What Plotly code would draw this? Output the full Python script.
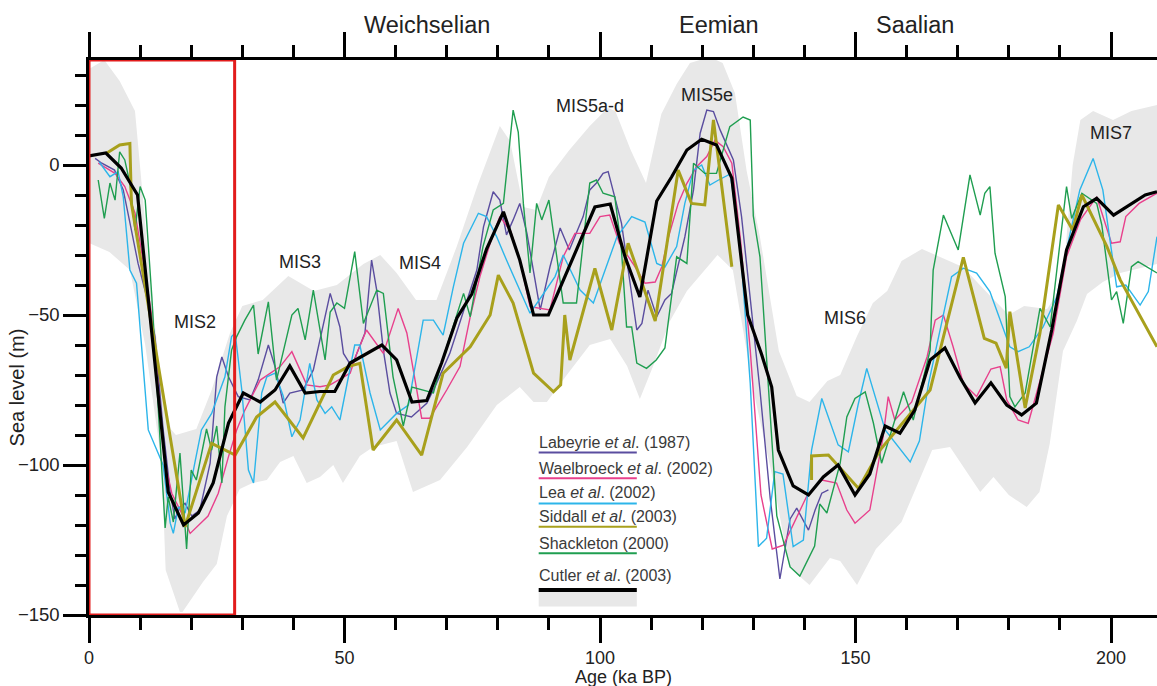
import plotly.graph_objects as go

# ---------------- data ----------------
# Cutler et al. (2003) - black
cutler_x = [0, 3.3, 6.3, 9.5, 15.5, 18.5, 21.4, 24.3, 27.3, 30.2, 33.5, 36.4, 39.3, 42.3, 45.2, 48.1,
            51.1, 54.3, 57.3, 60.2, 63.2, 66.1, 69.0, 72.0, 74.9, 77.8, 81.1, 84.3, 87.0, 89.9, 99.0,
            102.0, 104.9, 107.8, 111.1, 114.0, 117.0, 119.9, 122.8, 125.8, 128.9, 131.6, 133.6, 134.9,
            137.8, 140.8, 143.7, 146.6, 149.9, 152.8, 155.8, 158.7, 161.6, 164.6, 167.5, 170.5, 173.4,
            176.5, 179.6, 182.5, 185.4, 188.4, 191.3, 194.6, 197.2, 200.5, 203.7, 206.7, 209]
cutler_y = [3, 4, -1, -10, -109, -120, -116, -106, -86, -76, -79, -75, -67, -76, -75.5, -75.5,
            -66, -63, -60, -65, -79, -78.5, -66, -51, -43, -28, -15.6, -31.7, -50, -50, -14,
            -13, -30.6, -44, -12, -4, 5, 8.6, 6.7, -4.4, -50, -63, -74, -95,
            -107, -110, -104, -100, -110, -103, -87, -89.4, -81.7, -65, -61, -71, -79.3,
            -72.6, -80, -83.3, -79.4, -55, -28.3, -13.9, -11.1, -16.7, -13.3, -10, -8.9]

# envelope (grey band)
env_up_x = [0, 3, 6, 9, 10.5, 12, 14, 16, 17, 21, 24, 27.6, 30, 34, 39, 44, 48.5, 53.7, 57, 60.2, 64,
            68, 72, 76, 80.4, 82.4, 85, 87.5, 90, 94, 98, 101.5, 103, 106, 109, 112, 115, 117.6,
            121.5, 124, 126.4, 128.7, 131.3, 135, 138.5, 141, 144.5, 147, 150.3, 153.4, 156.2, 159,
            163, 167, 171, 176, 180, 183, 187.5, 190.5, 191.5, 192.5, 194, 196.5, 200.4, 204, 209]
env_up_y = [32, 35, 28, 18, -10, -40, -70, -88, -90, -88, -75, -56, -47, -45, -37, -42, -40, -33, -30,
            -36, -45, -45, -27, -7, 13, 8, -14, -15, -4, 5, 13, 19, 18, 5, -6, 17, 27, 34,
            36, 34, 24, -2, -24, -62, -77, -79, -72, -70, -57, -46, -42, -32,
            -28, -31, -34, -43, -50, -47, -48, -40, -20, 0, 15, 18, 15, 18, 20]
env_lo_x = [0, 4, 8, 11, 14.2, 15, 17.8, 18.3, 22.3, 25, 27, 29.5, 32, 34.8, 37.4, 40, 42.6, 45.2,
            47.8, 49.7, 53, 55.6, 60.2, 63.4, 68.7, 74, 79.8, 84.3, 87, 89.6, 93.5, 98, 102, 105.3,
            107.8, 110.4, 113.7, 117, 120, 123, 126, 128, 130, 134, 137, 141, 145, 147, 150.3, 154,
            159, 165, 168.5, 174.4, 177, 180, 183.5, 186, 188, 190.6, 193.3, 195.3, 198.4, 201.8, 209]
env_lo_y = [-26, -29, -35, -60, -99, -135, -149, -149, -139, -133, -117, -108, -106, -105, -99, -97,
            -106, -104, -100, -106, -97, -94, -92, -109, -105, -94, -80, -74, -79, -79, -70, -60,
            -58, -67, -78, -67, -52, -42, -36, -30, -35, -55, -75, -106, -134, -140, -131, -132,
            -140, -128, -119, -95, -94, -109, -104, -110, -114, -109, -93, -62, -52, -43, -39, -36, -33]

# Labeyrie et al. (1987) - purple
lab_x = [1.2, 2.5, 5.0, 6.7, 8.3, 9.6, 11.6, 12.9, 14.5, 15.9, 16.8, 17.8, 18.8, 20.1, 21.7, 23.7,
         25.0, 26.0, 27.3, 29.2, 31.5, 33.1, 35.1, 36.4, 38.0, 39.3, 41.9, 43.9, 47.2, 49.1, 49.8,
         51.4, 54.0, 55.3, 56.3, 57.6, 58.9, 60.2, 61.5, 63.1, 66.1, 68.0, 70.6, 73.2, 75.9, 77.2,
         79.1, 80.4, 81.7, 83.0, 84.3, 85.7, 87.0, 88.3, 90.2, 92.2, 94.0, 96.7, 98.0, 99.3, 100.6,
         101.6, 104.2, 105.9, 107.2, 108.2, 109.4, 111.1, 112.7, 114.0, 115.3, 116.6, 118.3, 119.6,
         120.9, 122.2, 123.5, 124.8, 126.1, 127.7, 129.4, 131.3, 133.3, 135.2, 136.2, 137.2, 138.5,
         140.8, 142.1, 143.4, 144.7]
lab_y = [2.2, 0.6, -1.7, -8.3, -21.7, -32.8, -46, -57, -88, -109, -118, -114, -112.8, -117, -115,
         -99.4, -70.6, -64, -70.6, -77.2, -78.3, -71.7, -60, -67.2, -79.4, -76, -75, -68.3, -42.8,
         -54, -62.8, -67.2, -56, -31.7, -41.7, -61.7, -76, -82.8, -83.3, -84, -79.4, -72.8, -62.8,
         -49.4, -35, -20.6, -8.9, -11.7, -23.3, -18.3, -12.8, -22.8, -36, -48.3, -34, -21, -28.3,
         -17.2, -8.3, -6, -2.8, -2.2, -19.4, -39.4, -55, -52.8, -41.7, -50.6, -45, -42.8, -33.9,
         -24, -8.3, 10.6, 18.3, 17.8, 11.7, 6.7, 1.7, -17.2, -45, -75, -111, -138, -128, -118,
         -114.4, -121.7, -115, -109.4, -108.3]

# Waelbroeck et al. (2002) - pink
wae_x = [1.8, 5.1, 7.0, 9.0, 11.0, 12.3, 14.9, 16.2, 18.1, 19.8, 23.3, 25.3, 27.3, 28.9, 30.5, 33.5,
         37.4, 39.7, 41.3, 42.6, 45.2, 47.2, 51.1, 52.4, 54.3, 57.6, 60.5, 62.2, 65.1, 66.7, 70.0,
         72.6, 74.6, 76.5, 78.5, 80.4, 82.5, 84.5, 86.3, 90.2, 92.8, 95.1, 98.0, 100.0, 101.9, 103.8,
         106.5, 108.8, 110.8, 112.1, 113.4, 115.3, 117.0, 118.9, 120.9, 122.5, 124.1, 125.8, 127.5,
         129.4, 131.5, 133.7, 135.9, 140.4, 143.4, 146.3, 148.3, 149.9, 152.8, 155.4, 156.4, 157.7,
         161.0, 164.0, 165.6, 167.2, 169.1, 171.1, 173.7, 176.5, 178.3, 179.6, 181.8, 183.8, 188.7,
         191.3, 194.0, 197.2, 200.1, 201.8, 202.9, 205.5, 209]
wae_y = [0.6, -2.8, -7.2, -16, -36, -50.6, -99.4, -109.4, -116, -122.8, -117, -109.4, -97.2, -88.3,
         -81.7, -71.7, -67.2, -62.2, -68.3, -73.3, -73.9, -73.3, -69.4, -62.8, -55, -62.8, -47.8,
         -56, -84.4, -84.4, -75, -67.2, -50.6, -37.2, -26.1, -17.2, -22, -33, -47.2, -48.3, -30.6,
         -22.8, -22.8, -17.2, -16.7, -26.1, -33, -39.4, -39, -33.9, -24, -12.8, -6.1, -0.6, 2.8,
         8.3, 6.1, 0.6, -25, -61.7, -110, -128, -126.7, -110.6, -105, -106, -115, -119.4, -115,
         -90.6, -77.2, -85, -79, -64, -51.7, -50, -60.6, -72.8, -77.2, -68, -67.2, -78.3, -85,
         -86.1, -56, -30.6, -18.3, -10.6, -26.1, -25.6, -17.2, -12.8, -9.4]

# Lea et al. (2002) - cyan
lea_x = [2.0, 4.1, 5.7, 6.7, 8.0, 9.3, 11.6, 13.2, 14.5, 15.9, 16.5, 17.5, 18.8, 20.7, 22.0, 24.0,
         26.6, 27.9, 28.6, 29.9, 31.2, 32.2, 33.8, 34.8, 36.4, 38.0, 39.7, 41.3, 43.2, 44.6, 46.2,
         47.5, 49.1, 52.0, 53.0, 55.0, 57.0, 60.2, 62.5, 65.4, 67.4, 69.3, 71.3, 73.3, 76.2, 77.8,
         79.8, 81.7, 84.3, 86.3, 88.5, 91.2, 92.8, 96.1, 98.7, 103.3, 106.2, 108.8, 111.1, 112.7,
         115.0, 116.6, 118.3, 119.9, 121.5, 123.2, 125.5, 127.4, 129.4, 131.0, 132.6, 134.2, 135.8,
         137.8, 139.8, 141.4, 143.4, 146.6, 148.6, 150.5, 152.2, 155.8, 160.7, 162.5, 164.3, 167.2,
         168.8, 171.1, 173.7, 176.3, 180.2, 181.8, 184.0, 186.7, 189.4, 192.0, 193.9, 196.5, 198.4,
         201.1, 202.9, 205.7, 207.3, 209]
lea_y = [1, -3.9, -2.2, -10.6, -35, -39.4, -88.3, -95, -100, -119.4, -122.8, -114, -116, -99.4,
         -88.3, -82.8, -70.6, -57.2, -56, -75, -101.7, -106, -76, -70.6, -69.4, -77, -90.6, -85,
         -66.1, -78.3, -82.8, -80.6, -85, -60, -60, -76, -88.3, -82.8, -80, -51.7, -51.7, -56.7,
         -40.6, -26.1, -16.1, -17.2, -24, -31.7, -41.7, -49.4, -44, -37.2, -30, -41.7, -46, -24,
         -17.2, -19, -32.8, -34, -27.2, -12.8, -1.7, 0, -6.7, -5, -3, -26.1, -72.8, -127.2, -124.4,
         -102.2, -103, -127.2, -125, -95, -77.8, -93.3, -95.6, -80, -67.8, -88.3, -99, -92, -72.8,
         -49.4, -37.2, -34.4, -36, -42.2, -60.6, -62.2, -60.6, -54, -43.9, -22.8, -8.3, 2.2, -8.3,
         -40.6, -40, -46.7, -42.2, -23.9]

# Siddall et al. (2003) - olive
sid_x = [3.5, 6.0, 8.0, 8.3, 18.8, 24.0, 28.6, 32.8, 36.4, 41.9, 47.8, 50.7, 53.0, 55.6, 60.2, 65.1,
         69.3, 74.6, 78.5, 80.1, 83.0, 87.0, 90.9, 92.3, 93.1, 94.1, 99.0, 102.3, 105.5, 110.8, 115.3,
         117.9, 120.5, 122.2, 125.8, None, 141.4, 141.4, 144.7, 150.6, 154.8, 164.6, 171.1, 175.2,
         177.5, 179.5, 180.2, 183.2, 186.1, 189.7, 192.5, 194.3, 199.2, 201.8, 209]
sid_y = [4, 6.7, 7.2, -12.8, -120.6, -92.8, -96.7, -84, -79, -91, -70, -67.2, -66.1, -95, -85, -96.7,
         -69.4, -60.6, -50, -36.7, -46, -69.4, -75.6, -73.3, -50, -65, -34.5, -55, -26.1, -52, -1.7,
         -12.8, -13.3, 15, -33.9, None, -105, -97, -96.7, -107.8, -95, -75, -30.8, -57.8,
         -59.4, -67.7, -48.9, -81, -56, -13.3, -21.7, -10, -27.2, -38.3, -60.6]

# Shackleton (2000) - green
sha_x = [1.8, 3.0, 4.1, 5.1, 6.0, 7.0, 8.0, 9.0, 10.0, 11.0, 12.3, 14.9, 15.5, 16.5, 17.8, 19.1, 20.0,
         21.0, 23.0, 24.0, 25.0, 26.0, 26.6, 27.9, 28.9, 30.5, 32.2, 33.1, 35.1, 36.7, 39.7, 40.9,
         42.3, 43.9, 46.2, 47.2, 48.5, 50.0, 52.0, 53.7, 56.3, 57.6, 59.5, 61.5, 63.2, 67.4, 69.0,
         72.0, 73.3, 74.6, 77.1, 79.1, 81.1, 83.0, 84.0, 85.0, 86.3, 87.6, 88.6, 90.0, 92.8, 95.4,
         98.0, 99.3, 100.6, 102.9, 104.2, 105.2, 106.2, 107.2, 109.1, 111.0, 112.7, 115.0, 117.0,
         118.3, 120.5, 122.8, 124.1, 125.4, 128.0, 129.4, 130.0, 131.3, 134.6, 137.2, 139.1, 142.0,
         143.0, 144.4, 147.0, 148.3, 149.9, 151.9, 153.5, 155.1, 159.4, 161.3, 164.6, 165.2, 167.2,
         170.1, 172.4, 174.4, 175.3, 176.3, 177.3, 179.3, 180.2, 181.2, 183.2, 186.1, 188.1, 191.3,
         192.3, 194.3, 197.2, 198.2, 200.1, 201.1, 202.4, 204.0, 205.3, 209]
sha_y = [-5, -17.8, -6, -11.7, 4.4, 1.7, -6, -21.7, -7.2, -11.7, -44, -121, -110.6, -119, -96, -128,
         -101.7, -105, -88, -95, -87, -106, -80.6, -61.7, -57.2, -51.7, -46.7, -63, -45.6, -71.7, -50,
         -47.8, -58.3, -41.7, -65, -49, -46, -47.8, -28.9, -52.8, -41.7, -42.8, -70.6, -87, -74, -76,
         -66, -49.4, -42.8, -50.6, -27.2, -15, -12.8, 18.3, 11, -12.8, -36, -12.8, -18.3, -11.7, -46,
         -46, -6, -5, -9.4, -10.6, -28.3, -54, -54, -66, -67.8, -65, -61, -30.6, -32.8, 0.6, -2.8,
         -2.8, 5, 12.8, 16, 15, -17, -30.6, -117, -134, -137, -127, -113, -116, -99.4, -84, -77.8,
         -75.6, -86, -99.4, -75.6, -85, -61.7, -35, -16.7, -28.3, -3.3, -16.7, -9.4, -7.2, -29.4,
         -43.9, -77.2, -80.6, -76, -47.8, -54, -7.2, -17.8, -9.4, -12.8, -20, -45, -42.2, -52.8,
         -33.9, -32.2, -36]

x_major_ticks = [0, 50, 100, 150, 200]
y_major_ticks = [-150, -100, -50, 0]
stage_names = ["Weichselian", "Eemian", "Saalian"]
stage_pos = [66.1, 123.3, 161.6]
mis_labels = ["MIS2", "MIS3", "MIS4", "MIS5a-d", "MIS5e", "MIS6", "MIS7"]
mis_x = [20.7, 41.3, 64.8, 98.0, 121.0, 148.0, 200.0]
mis_y = [-52.3, -32.3, -32.7, 19.7, 23.3, -51.0, 10.7]
legend_labels = ["Labeyrie <i>et al</i>. (1987)", "Waelbroeck <i>et al</i>. (2002)",
                 "Lea <i>et al</i>. (2002)", "Siddall <i>et al</i>. (2003)",
                 "Shackleton (2000)", "Cutler <i>et al</i>. (2003)"]

# ---------------- styling ----------------
FONT = "Arial, 'Liberation Sans', Helvetica, sans-serif"
C_PURPLE = "#5a4d9f"
C_PINK = "#e8408c"
C_CYAN = "#2cb5ea"
C_OLIVE = "#a8a01c"
C_GREEN = "#1f9e50"
C_BLACK = "#000000"
C_BAND = "#e8e8e8"
C_RED = "#e21c1c"
TXT = "#222222"

fig = go.Figure()

# grey envelope
fig.add_trace(go.Scatter(x=env_up_x + env_lo_x[::-1], y=env_up_y + env_lo_y[::-1],
                         fill="toself", fillcolor=C_BAND, line=dict(width=0),
                         mode="lines", hoverinfo="skip", showlegend=False))

series = [
    (lab_x, lab_y, C_PURPLE, 1.4),
    (wae_x, wae_y, C_PINK, 1.4),
    (lea_x, lea_y, C_CYAN, 1.4),
    (sha_x, sha_y, C_GREEN, 1.4),
    (sid_x, sid_y, C_OLIVE, 3.0),
    (cutler_x, cutler_y, C_BLACK, 3.2),
]
for sx, sy, col, w in series:
    fig.add_trace(go.Scatter(x=sx, y=sy, mode="lines", line=dict(color=col, width=w),
                             connectgaps=False, showlegend=False, hoverinfo="skip"))

# dummy trace to carry the top axis
fig.add_trace(go.Scatter(x=[0], y=[0], xaxis="x2", mode="markers",
                         marker=dict(opacity=0), showlegend=False, hoverinfo="skip"))

X_RANGE = [0, 209]
Y_RANGE = [-150, 35]

axis_common = dict(showline=True, linecolor="black", linewidth=2.5, showgrid=False,
                   zeroline=False, ticks="outside", tickcolor="black", tickwidth=2.5)

fig.update_layout(
    width=1157, height=686,
    margin=dict(l=89, r=0, t=60, b=71),
    paper_bgcolor="white", plot_bgcolor="white",
    font=dict(family=FONT, color=TXT),
    xaxis=dict(range=X_RANGE, tickvals=x_major_ticks, ticklen=25,
               tickfont=dict(size=18, family=FONT, color=TXT),
               minor=dict(dtick=10, tick0=0, ticks="outside", ticklen=12, tickwidth=2.5,
                          tickcolor="black"),
               **axis_common),
    xaxis2=dict(range=X_RANGE, overlaying="x", side="top", anchor="y",
                tickvals=x_major_ticks, ticklen=25, showticklabels=False,
                minor=dict(dtick=10, tick0=0, ticks="outside", ticklen=12, tickwidth=2.5,
                           tickcolor="black"),
                **axis_common),
    yaxis=dict(range=Y_RANGE, tickvals=y_major_ticks, ticklen=23,
               tickfont=dict(size=18.5, family=FONT, color=TXT),
               minor=dict(dtick=10, tick0=0, ticks="outside", ticklen=11, tickwidth=2.5,
                          tickcolor="black"),
               **axis_common),
)

annotations = []
# axis titles
annotations.append(dict(text="Age (ka BP)", xref="paper", yref="paper", x=0.5, y=-0.111,
                        xanchor="center", yanchor="middle", showarrow=False,
                        font=dict(size=18, family=FONT, color=TXT)))
annotations.append(dict(text="Sea level (m)", xref="paper", yref="y", x=-0.067, y=-74,
                        textangle=-90, xanchor="center", yanchor="middle", showarrow=False,
                        font=dict(size=20, family=FONT, color=TXT)))
# stage names on top
for name, xp in zip(stage_names, stage_pos):
    annotations.append(dict(text=name, xref="x", yref="paper", x=xp, y=1.063,
                            xanchor="center", yanchor="middle", showarrow=False,
                            font=dict(size=23.5, family=FONT, color=TXT)))
# MIS labels
for name, xp, yp in zip(mis_labels, mis_x, mis_y):
    annotations.append(dict(text=name, xref="x", yref="y", x=xp, y=yp,
                            xanchor="center", yanchor="middle", showarrow=False,
                            font=dict(size=18, family=FONT, color=TXT)))

# hand-drawn legend
LEG_X0, LEG_X1 = 88.0, 107.2
leg_text_y = [-92.4, -101.1, -109.2, -117.2, -126.1, -136.7]
leg_line_y = [-95.8, -104.4, -112.8, -120.6, -129.4, -141.7]
leg_colors = [C_PURPLE, C_PINK, C_CYAN, C_OLIVE, C_GREEN, C_BLACK]
leg_widths = [2, 2, 2, 2, 2, 4]
shapes = []
shapes.append(dict(type="rect", xref="x", yref="y", x0=LEG_X0, x1=LEG_X1, y0=-147.2, y1=-141.7,
                   fillcolor=C_BAND, line=dict(width=0), layer="above"))
for lab, ty, ly, col, w in zip(legend_labels, leg_text_y, leg_line_y, leg_colors, leg_widths):
    annotations.append(dict(text=lab, xref="x", yref="y", x=LEG_X0 - 0.3, y=ty,
                            xanchor="left", yanchor="middle", showarrow=False,
                            font=dict(size=16, family=FONT, color="#3a3a3a")))
    shapes.append(dict(type="line", xref="x", yref="y", x0=LEG_X0, x1=LEG_X1, y0=ly, y1=ly,
                       line=dict(color=col, width=w), layer="above"))

# red box around MIS2
shapes.append(dict(type="rect", xref="x", yref="y", x0=0, x1=28.5, y0=-150, y1=35,
                   line=dict(color=C_RED, width=3), fillcolor="rgba(0,0,0,0)", layer="above"))

fig.update_layout(annotations=annotations, shapes=shapes)

fig.write_html("out.html")
